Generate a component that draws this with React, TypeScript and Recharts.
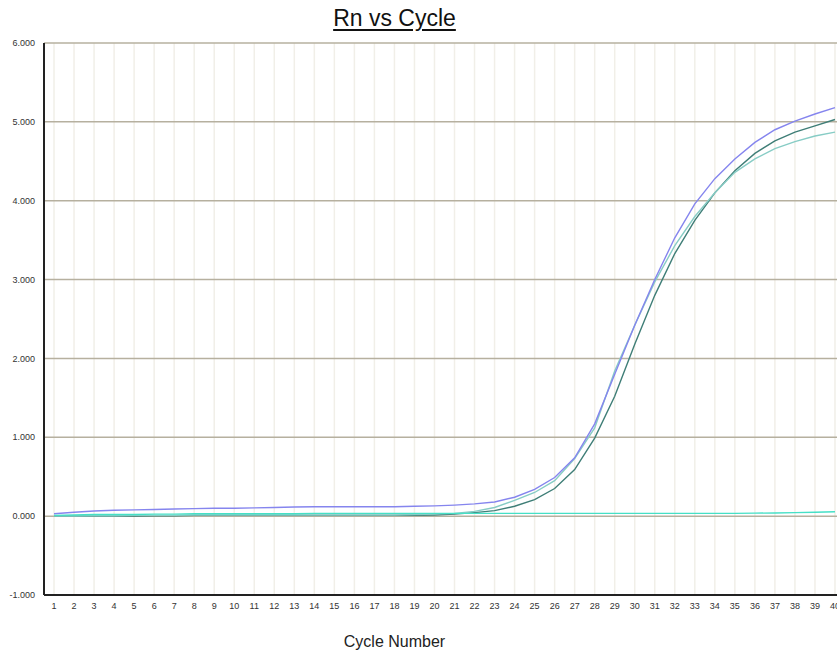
import * as React from 'react';
import {
  LineChart,
  Line,
  XAxis,
  YAxis,
  CartesianGrid,
} from 'recharts';

// cycle numbers on the x axis
const cycles = [
  1, 2, 3, 4, 5, 6, 7, 8, 9, 10, 11, 12, 13, 14, 15, 16, 17, 18, 19, 20,
  21, 22, 23, 24, 25, 26, 27, 28, 29, 30, 31, 32, 33, 34, 35, 36, 37, 38, 39, 40,
];

const yTicks = [-1, 0, 1, 2, 3, 4, 5, 6];

// Rn values per cycle, one array per well
const wellPurple = [
  0.03, 0.05, 0.065, 0.075, 0.08, 0.085, 0.09, 0.095, 0.1, 0.1,
  0.105, 0.11, 0.115, 0.12, 0.12, 0.12, 0.12, 0.12, 0.125, 0.13,
  0.14, 0.155, 0.18, 0.24, 0.34, 0.49, 0.74, 1.17, 1.8, 2.42,
  3.0, 3.53, 3.96, 4.28, 4.53, 4.74, 4.9, 5.01, 5.1, 5.18,
];

const wellLightTeal = [
  0.0, 0.0, 0.005, 0.005, 0.01, 0.01, 0.01, 0.015, 0.015, 0.015,
  0.015, 0.015, 0.015, 0.015, 0.015, 0.015, 0.015, 0.015, 0.02, 0.025,
  0.035, 0.06, 0.11, 0.2, 0.3, 0.45, 0.73, 1.12, 1.84, 2.42,
  2.97, 3.43, 3.8, 4.1, 4.36, 4.53, 4.66, 4.75, 4.82, 4.87,
];

const wellDarkTeal = [
  0.0, 0.0, 0.0, 0.0, 0.0, 0.005, 0.005, 0.01, 0.01, 0.01,
  0.01, 0.01, 0.01, 0.01, 0.01, 0.01, 0.01, 0.01, 0.01, 0.015,
  0.025, 0.045, 0.07, 0.125, 0.21, 0.35, 0.59, 0.99, 1.52, 2.18,
  2.8, 3.33, 3.75, 4.1, 4.38, 4.6, 4.76, 4.87, 4.95, 5.03,
];

const wellNtc = [
  0.01, 0.015, 0.02, 0.02, 0.02, 0.025, 0.025, 0.03, 0.03, 0.03,
  0.03, 0.03, 0.03, 0.035, 0.035, 0.035, 0.035, 0.035, 0.035, 0.035,
  0.035, 0.035, 0.035, 0.035, 0.035, 0.035, 0.035, 0.035, 0.035, 0.035,
  0.035, 0.035, 0.035, 0.035, 0.035, 0.038, 0.04, 0.045, 0.05, 0.055,
];

const data = cycles.map((c, i) => ({
  cycle: c,
  purple: wellPurple[i],
  lightTeal: wellLightTeal[i],
  darkTeal: wellDarkTeal[i],
  ntc: wellNtc[i],
}));

const FONT = 'Arial, "Liberation Sans", sans-serif';

export default function App() {
  return (
    <div
      style={{
        position: 'absolute',
        left: 0,
        top: 0,
        width: 837,
        height: 652,
        overflow: 'hidden',
        background: '#fff',
        fontFamily: FONT,
      }}
    >
      <div
        style={{
          position: 'absolute',
          left: 0,
          width: 789,
          top: 5,
          textAlign: 'center',
          fontSize: 23,
          color: '#111',
          textDecoration: 'underline',
          textUnderlineOffset: 3,
        }}
      >
        Rn vs Cycle
      </div>
      <LineChart
        width={850}
        height={652}
        data={data}
        margin={{ top: 43, right: 5, left: 0, bottom: 27 }}
      >
        <CartesianGrid
          horizontal={false}
          stroke="#f1efe8"
          strokeWidth={1.5}
        />
        <CartesianGrid
          vertical={false}
          stroke="#b6b09f"
          strokeWidth={1.5}
        />
        <XAxis
          dataKey="cycle"
          type="number"
          domain={[0.5, 40.5]}
          ticks={cycles}
          interval={0}
          height={30}
          tickLine={false}
          axisLine={{ stroke: '#222', strokeWidth: 2 }}
          tick={{ fontSize: 9, fill: '#333', fontFamily: FONT }}
        />
        <YAxis
          type="number"
          domain={[-1, 6]}
          ticks={yTicks}
          width={44}
          tickLine={false}
          tickSize={7}
          axisLine={{ stroke: '#222', strokeWidth: 2 }}
          tickFormatter={(v: number) => v.toFixed(3)}
          tick={{ fontSize: 9, fill: '#333', fontFamily: FONT }}
        />
        <Line
          type="linear"
          dataKey="darkTeal"
          stroke="#3f7e77"
          strokeWidth={1.4}
          dot={false}
          isAnimationActive={false}
        />
        <Line
          type="linear"
          dataKey="lightTeal"
          stroke="#87ccc5"
          strokeWidth={1.4}
          dot={false}
          isAnimationActive={false}
        />
        <Line
          type="linear"
          dataKey="purple"
          stroke="#8585ee"
          strokeWidth={1.4}
          dot={false}
          isAnimationActive={false}
        />
        <Line
          type="linear"
          dataKey="ntc"
          stroke="#45e0c6"
          strokeWidth={1.4}
          dot={false}
          isAnimationActive={false}
        />
      </LineChart>
      <div
        style={{
          position: 'absolute',
          left: 0,
          width: 789,
          top: 633,
          textAlign: 'center',
          fontSize: 16,
          color: '#222',
        }}
      >
        Cycle Number
      </div>
    </div>
  );
}
